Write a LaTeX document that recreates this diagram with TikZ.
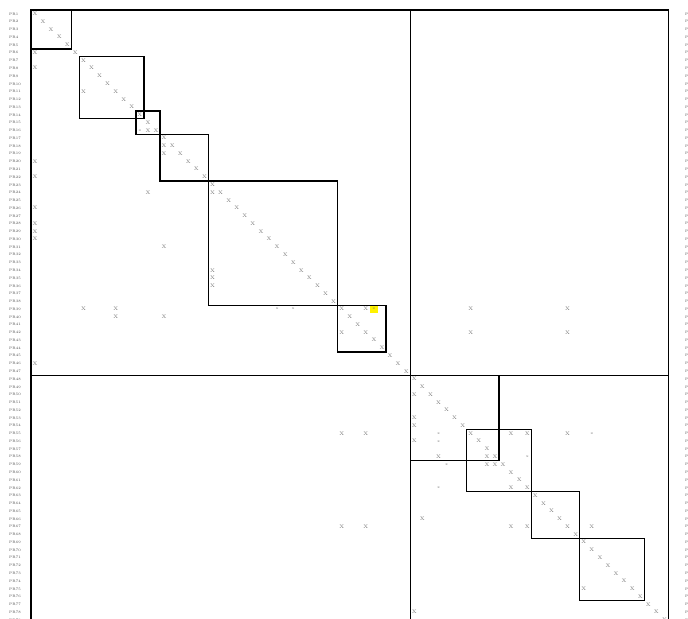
\documentclass[tikz,border=0pt]{standalone}
\usepackage{tikz}
\tikzset{
  mk/.style={text=black!55, font=\fontsize{5}{5}\selectfont, inner sep=0pt},
  smk/.style={text=black!55, font=\fontsize{3.6}{4}\selectfont, inner sep=0pt},
  lab/.style={anchor=west, text=black!70, font=\fontsize{3.6}{4}\selectfont, inner sep=0pt},
  blk/.style={line width=1.4pt}
}
\begin{document}
\begin{tikzpicture}[x=8.07pt,y=-7.77pt]
\useasboundingbox (-3.841,-1.287) rectangle (81.41,78.25);
\clip (-3.841,-1.287) rectangle (81.41,78.25);
%%%%% Highlight %%%%%
\fill[yellow] (42,38) rectangle (43,39);
%%%%% Labels %%%%%
\foreach \i in {1,...,79}{
\node[lab] (pl\i) at (-2.73,\i-0.5) {PR\i};
\node[lab] (pr\i) at (81.04,\i-0.5) {PR\i};
}
%%%%% Marks %%%%%
\foreach \i in {1,...,79}{
\node[mk] (m\i-\i) at (\i-0.5,\i-0.5) {X};
}
\foreach \r/\c in {6/1,8/1,11/7,16/15,18/17,19/17,20/1,22/1,24/15,26/1,28/1,29/1,30/1,31/17,
24/23,34/23,35/23,36/23,39/7,39/11,40/11,40/17,39/42,39/55,39/67,42/39,42/55,42/67,46/1,
50/48,53/48,54/48,55/39,55/42,55/60,55/62,55/67,56/48,58/51,58/57,59/57,59/58,62/60,
66/49,67/39,67/42,67/60,67/62,67/70,75/69,78/48}{
\node[mk] (m\r-\c) at (\c-0.5,\r-0.5) {X};
}
\foreach \r/\c in {16/14,39/31,39/33,39/43,55/51,55/70,56/51,58/62,59/52,62/51}{
\node[smk] (m\r-\c) at (\c-0.5,\r-0.5) {x};
}
%%%%% Frame %%%%%
\draw[blk] (0,0) rectangle (79,79);
\draw[blk] (47,0)--(47,79);
\draw[blk] (0,47)--(79,47);
%%%%% Blocks %%%%%
\foreach \a/\b in {1/5,7/14,14/16,17/22,23/38,39/44,48/58,55/62,63/68,69/76}{
\draw[blk] (\a-1,\a-1) rectangle (\b,\b);
}
\end{tikzpicture}
\end{document}
